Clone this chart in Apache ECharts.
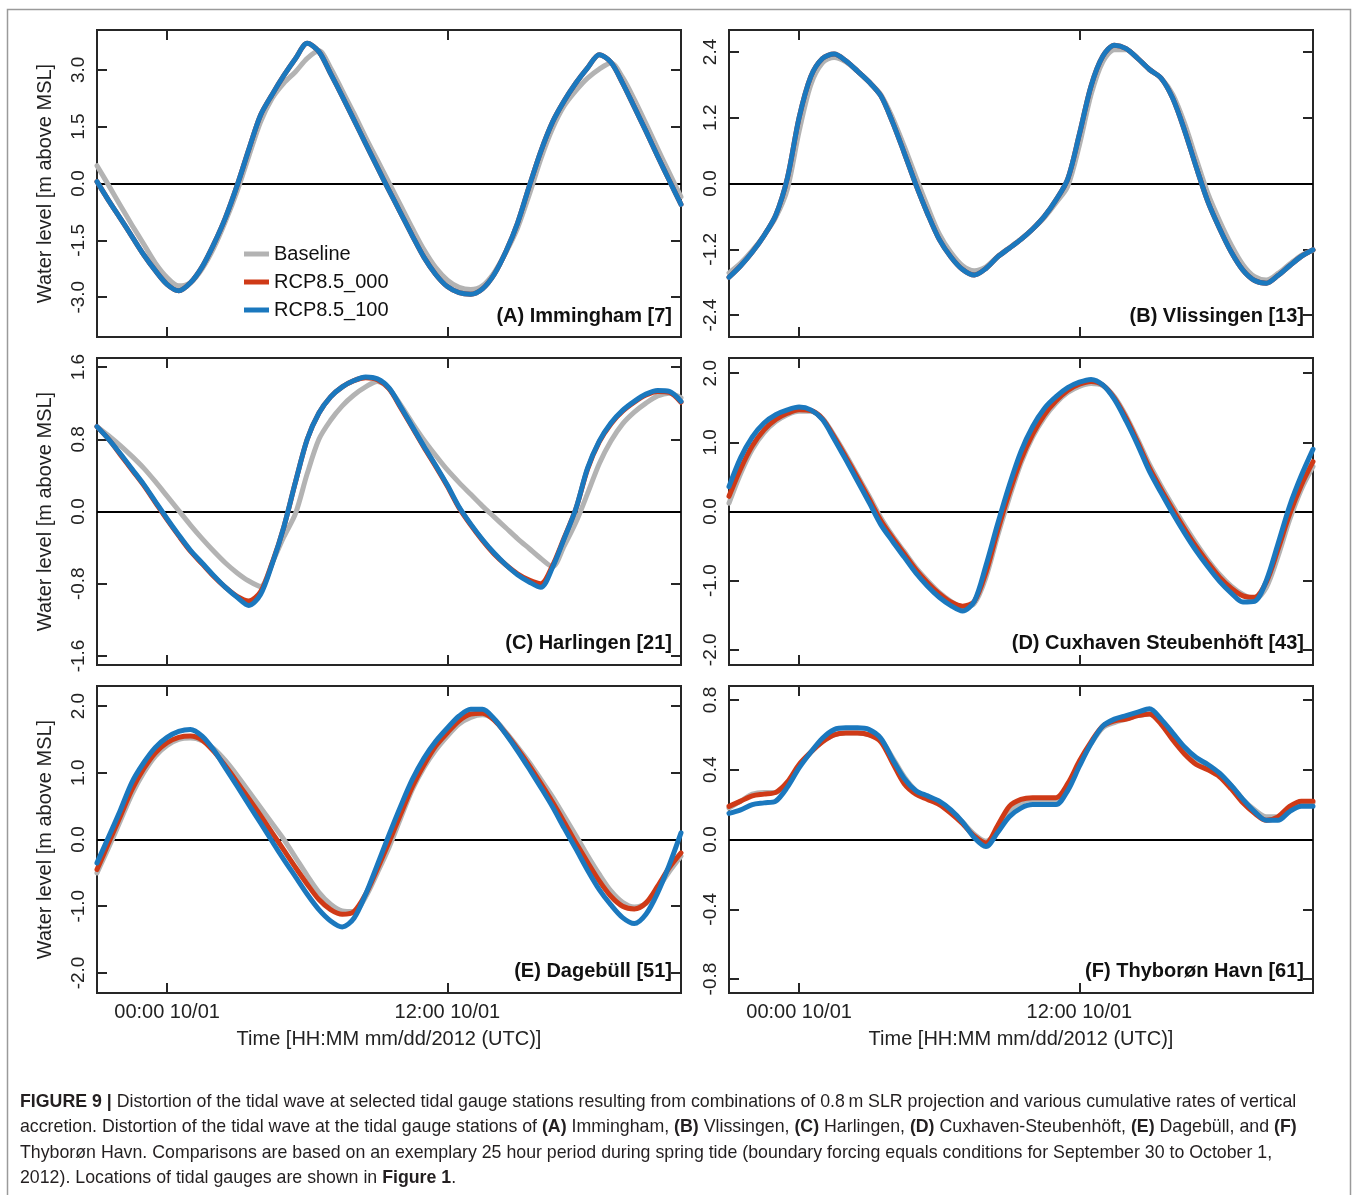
<!DOCTYPE html>
<html>
<head>
<meta charset="utf-8">
<script src="https://cdn.jsdelivr.net/npm/echarts@6/dist/echarts.min.js"></script>
<style>
html,body{margin:0;padding:0;background:#fff;}
#wrap{position:relative;width:1358px;height:1195px;overflow:hidden;background:#fff;}
#chart{position:absolute;left:0;top:0;width:1358px;height:1195px;}
#cap{position:absolute;left:20px;top:1089px;font-family:"Liberation Sans",Arial,Helvetica,sans-serif;font-size:17.75px;line-height:25.4px;color:#231f20;white-space:nowrap;}
#cap b{font-weight:bold;}
</style>
</head>
<body>
<div id="wrap">
<div id="chart"></div>
<div id="cap"><b>FIGURE 9 |</b> Distortion of the tidal wave at selected tidal gauge stations resulting from combinations of 0.8&#8201;m SLR projection and various cumulative rates of vertical<br>accretion. Distortion of the tidal wave at the tidal gauge stations of <b>(A)</b> Immingham, <b>(B)</b> Vlissingen, <b>(C)</b> Harlingen, <b>(D)</b> Cuxhaven-Steubenhöft, <b>(E)</b> Dagebüll, and <b>(F)</b><br>Thyborøn Havn. Comparisons are based on an exemplary 25 hour period during spring tide (boundary forcing equals conditions for September 30 to October 1,<br>2012). Locations of tidal gauges are shown in <b>Figure 1</b>.</div>
</div>
<script>
// ---- time grid (hours relative to 00:00 10/01/2012) ----
const HOURS = [-3,-2.5,-2,-1.5,-1,-0.5,0,0.5,1,1.5,2,2.5,3,3.5,4,4.5,5,5.5,6,6.5,7,7.5,8,8.5,9,9.5,10,10.5,11,11.5,12,12.5,13,13.5,14,14.5,15,15.5,16,16.5,17,17.5,18,18.5,19,19.5,20,20.5,21,21.5,22];
const X_MIN = -3, X_MAX = 22;
const X_TICKS = [0, 12];
const X_TICK_LABELS = ['00:00 10/01', '12:00 10/01'];
const SERIES_NAMES = ['Baseline', 'RCP8.5_000', 'RCP8.5_100'];
const PANEL_TITLES = ['(A) Immingham [7]', '(B) Vlissingen [13]', '(C) Harlingen [21]', '(D) Cuxhaven Steubenhöft [43]', '(E) Dagebüll [51]', '(F) Thyborøn Havn [61]'];

// ---- y axis ticks / ranges ----
const A_TICKS = [-3, -1.5, 0, 1.5, 3];   const A_RANGE = [-4.05, 4.05];
const B_TICKS = [-2.4, -1.2, 0, 1.2, 2.4]; const B_RANGE = [-2.8, 2.8];
const C_TICKS = [-1.6, -0.8, 0, 0.8, 1.6]; const C_RANGE = [-1.7, 1.7];
const D_TICKS = [-2, -1, 0, 1, 2];       const D_RANGE = [-2.22, 2.22];
const E_TICKS = [-2, -1, 0, 1, 2];       const E_RANGE = [-2.3, 2.3];
const F_TICKS = [-0.8, -0.4, 0, 0.4, 0.8]; const F_RANGE = [-0.88, 0.88];

// ---- water levels [m above MSL] ----
const A_BASE = [0.47,-0.05,-0.58,-1.10,-1.60,-2.10,-2.48,-2.70,-2.62,-2.25,-1.70,-1.00,-0.20,0.72,1.62,2.25,2.65,2.95,3.30,3.50,3.05,2.45,1.85,1.22,0.62,0.02,-0.58,-1.18,-1.75,-2.22,-2.55,-2.74,-2.80,-2.70,-2.35,-1.82,-1.18,-0.30,0.65,1.45,2.05,2.45,2.78,3.02,3.18,2.80,2.22,1.58,0.92,0.28,-0.35];
const A_000  = [0.05,-0.45,-0.92,-1.40,-1.88,-2.30,-2.66,-2.83,-2.62,-2.20,-1.60,-0.90,-0.05,0.90,1.80,2.35,2.85,3.30,3.70,3.48,2.90,2.30,1.68,1.05,0.43,-0.18,-0.78,-1.38,-1.95,-2.40,-2.72,-2.88,-2.92,-2.78,-2.40,-1.80,-1.05,-0.08,0.85,1.62,2.18,2.65,3.05,3.40,3.20,2.65,2.02,1.38,0.72,0.08,-0.55];
const A_100  = [0.05,-0.45,-0.92,-1.40,-1.88,-2.30,-2.66,-2.83,-2.62,-2.20,-1.60,-0.90,-0.05,0.90,1.80,2.35,2.85,3.30,3.70,3.48,2.90,2.30,1.68,1.05,0.43,-0.18,-0.78,-1.38,-1.95,-2.40,-2.72,-2.88,-2.92,-2.78,-2.40,-1.80,-1.05,-0.08,0.85,1.62,2.18,2.65,3.05,3.40,3.20,2.65,2.02,1.38,0.72,0.08,-0.55];

const B_BASE = [-1.63,-1.45,-1.22,-0.95,-0.62,-0.10,0.95,1.80,2.20,2.30,2.22,2.05,1.85,1.62,1.20,0.68,0.12,-0.42,-0.92,-1.26,-1.50,-1.59,-1.52,-1.33,-1.17,-1.01,-0.83,-0.62,-0.35,-0.05,0.70,1.62,2.22,2.44,2.44,2.28,2.08,1.92,1.62,1.10,0.45,-0.18,-0.68,-1.12,-1.48,-1.70,-1.76,-1.64,-1.47,-1.31,-1.22];
const B_000  = [-1.71,-1.50,-1.25,-0.95,-0.58,0.10,1.20,1.95,2.28,2.36,2.24,2.05,1.85,1.60,1.12,0.56,-0.02,-0.55,-1.02,-1.34,-1.57,-1.67,-1.55,-1.34,-1.18,-1.02,-0.83,-0.60,-0.30,0.08,0.90,1.78,2.32,2.52,2.46,2.28,2.08,1.92,1.55,0.97,0.30,-0.33,-0.82,-1.25,-1.58,-1.77,-1.82,-1.68,-1.50,-1.33,-1.21];
const B_100  = [-1.71,-1.50,-1.25,-0.95,-0.58,0.10,1.20,1.95,2.28,2.36,2.24,2.05,1.85,1.60,1.12,0.56,-0.02,-0.55,-1.02,-1.34,-1.57,-1.67,-1.55,-1.34,-1.18,-1.02,-0.83,-0.60,-0.30,0.08,0.90,1.78,2.32,2.52,2.46,2.28,2.08,1.92,1.55,0.97,0.30,-0.33,-0.82,-1.25,-1.58,-1.77,-1.82,-1.68,-1.50,-1.33,-1.21];

const C_BASE = [0.94,0.84,0.73,0.61,0.48,0.33,0.17,0.01,-0.15,-0.30,-0.44,-0.57,-0.68,-0.77,-0.83,-0.57,-0.28,-0.02,0.42,0.80,1.01,1.17,1.29,1.38,1.44,1.36,1.18,0.98,0.79,0.62,0.46,0.32,0.19,0.06,-0.06,-0.18,-0.30,-0.41,-0.52,-0.61,-0.38,-0.12,0.20,0.53,0.78,0.97,1.10,1.20,1.28,1.31,1.26];
const C_000  = [0.94,0.80,0.63,0.46,0.29,0.10,-0.09,-0.27,-0.44,-0.58,-0.72,-0.84,-0.94,-0.99,-0.89,-0.57,-0.17,0.33,0.80,1.09,1.27,1.38,1.45,1.48,1.46,1.36,1.15,0.93,0.71,0.50,0.28,0.04,-0.15,-0.32,-0.47,-0.59,-0.69,-0.76,-0.80,-0.60,-0.29,0.03,0.47,0.77,0.97,1.11,1.21,1.29,1.33,1.32,1.21];
const C_100  = [0.94,0.80,0.64,0.47,0.30,0.11,-0.08,-0.26,-0.43,-0.57,-0.71,-0.84,-0.95,-1.04,-0.92,-0.58,-0.17,0.33,0.80,1.09,1.27,1.38,1.45,1.49,1.47,1.37,1.16,0.94,0.72,0.51,0.29,0.05,-0.14,-0.31,-0.46,-0.59,-0.70,-0.78,-0.84,-0.62,-0.30,0.03,0.48,0.78,0.98,1.12,1.22,1.30,1.34,1.33,1.22];

const D_BASE = [0.12,0.55,0.90,1.14,1.30,1.40,1.45,1.45,1.35,1.10,0.82,0.52,0.22,-0.09,-0.35,-0.58,-0.81,-1.00,-1.17,-1.30,-1.38,-1.33,-0.95,-0.35,0.20,0.70,1.08,1.36,1.57,1.72,1.81,1.85,1.82,1.66,1.38,1.04,0.68,0.37,0.08,-0.20,-0.46,-0.70,-0.91,-1.08,-1.20,-1.27,-1.10,-0.65,-0.12,0.32,0.65];
const D_000  = [0.22,0.62,0.95,1.18,1.33,1.42,1.47,1.46,1.34,1.08,0.79,0.49,0.18,-0.13,-0.38,-0.61,-0.84,-1.03,-1.19,-1.31,-1.37,-1.30,-0.88,-0.28,0.27,0.75,1.12,1.40,1.60,1.75,1.84,1.88,1.83,1.64,1.35,1.00,0.63,0.32,0.03,-0.25,-0.51,-0.74,-0.95,-1.11,-1.22,-1.24,-1.02,-0.55,-0.04,0.38,0.72];
const D_100  = [0.36,0.78,1.08,1.28,1.40,1.47,1.51,1.47,1.33,1.05,0.75,0.44,0.13,-0.19,-0.43,-0.66,-0.89,-1.08,-1.24,-1.36,-1.44,-1.30,-0.78,-0.18,0.38,0.87,1.23,1.49,1.66,1.79,1.87,1.91,1.83,1.62,1.31,0.96,0.58,0.27,-0.03,-0.31,-0.57,-0.80,-1.01,-1.18,-1.31,-1.30,-1.00,-0.47,0.08,0.52,0.90];

const E_BASE = [-0.50,-0.12,0.28,0.68,1.00,1.25,1.41,1.50,1.52,1.48,1.36,1.18,0.96,0.72,0.48,0.24,0.00,-0.27,-0.54,-0.79,-0.97,-1.07,-1.08,-0.86,-0.50,-0.12,0.32,0.75,1.08,1.34,1.55,1.73,1.83,1.87,1.80,1.61,1.39,1.16,0.90,0.64,0.35,0.06,-0.24,-0.52,-0.77,-0.94,-1.01,-0.96,-0.74,-0.48,-0.25];
const E_000  = [-0.45,-0.05,0.35,0.75,1.06,1.30,1.45,1.53,1.55,1.49,1.32,1.10,0.86,0.61,0.36,0.10,-0.16,-0.42,-0.67,-0.90,-1.05,-1.12,-1.08,-0.82,-0.44,-0.04,0.38,0.79,1.12,1.40,1.60,1.78,1.88,1.89,1.79,1.59,1.36,1.11,0.84,0.56,0.26,-0.05,-0.34,-0.62,-0.85,-1.00,-1.04,-0.95,-0.70,-0.42,-0.20];
const E_100  = [-0.35,0.04,0.44,0.86,1.15,1.38,1.53,1.62,1.65,1.55,1.34,1.07,0.80,0.52,0.25,-0.03,-0.30,-0.56,-0.82,-1.05,-1.22,-1.31,-1.18,-0.82,-0.38,0.07,0.50,0.90,1.22,1.47,1.67,1.85,1.95,1.95,1.81,1.58,1.33,1.06,0.78,0.49,0.17,-0.14,-0.46,-0.75,-0.98,-1.17,-1.26,-1.12,-0.80,-0.38,0.10];

const F_BASE = [0.18,0.22,0.26,0.27,0.27,0.32,0.42,0.50,0.56,0.60,0.61,0.61,0.60,0.57,0.47,0.36,0.28,0.24,0.21,0.16,0.10,0.03,-0.01,0.05,0.15,0.21,0.23,0.23,0.23,0.30,0.44,0.55,0.64,0.67,0.69,0.71,0.72,0.67,0.59,0.51,0.45,0.41,0.37,0.31,0.23,0.17,0.13,0.13,0.18,0.21,0.21];
const F_000  = [0.19,0.22,0.25,0.26,0.27,0.33,0.43,0.50,0.56,0.60,0.61,0.61,0.60,0.56,0.44,0.32,0.26,0.23,0.20,0.15,0.09,0.02,-0.02,0.08,0.19,0.23,0.24,0.24,0.24,0.32,0.45,0.56,0.65,0.68,0.69,0.71,0.72,0.66,0.57,0.49,0.43,0.40,0.36,0.29,0.21,0.15,0.11,0.13,0.19,0.22,0.22];
const F_100  = [0.15,0.17,0.20,0.21,0.22,0.30,0.41,0.50,0.58,0.63,0.64,0.64,0.63,0.58,0.46,0.35,0.28,0.25,0.22,0.17,0.10,0.01,-0.04,0.04,0.13,0.18,0.20,0.20,0.20,0.28,0.42,0.55,0.65,0.69,0.71,0.73,0.75,0.69,0.61,0.53,0.47,0.43,0.38,0.31,0.23,0.16,0.11,0.11,0.16,0.19,0.19];

// ---- assemble ----
const PANEL_DATA = [
  {ticks: A_TICKS, range: A_RANGE, series: [A_BASE, A_000, A_100]},
  {ticks: B_TICKS, range: B_RANGE, series: [B_BASE, B_000, B_100]},
  {ticks: C_TICKS, range: C_RANGE, series: [C_BASE, C_000, C_100]},
  {ticks: D_TICKS, range: D_RANGE, series: [D_BASE, D_000, D_100]},
  {ticks: E_TICKS, range: E_RANGE, series: [E_BASE, E_000, E_100]},
  {ticks: F_TICKS, range: F_RANGE, series: [F_BASE, F_000, F_100]}
];

const FONT = '"Liberation Sans", Arial, Helvetica, sans-serif';
const COLORS = ['#b3b3b3', '#cf3a17', '#1b78be'];
const FRAME = '#262626';
const GRID_W = 584, GRID_H = 307;
const GRID_POS = [[97, 30], [729, 30], [97, 358], [729, 358], [97, 686], [729, 686]];
const TITLE_POS = [[686, 306], [54, 306], [686, 633], [54, 633], [686, 961], [54, 961]];

const grids = [], xAxes = [], yAxes = [], series = [], titles = [];

PANEL_DATA.forEach((p, i) => {
  grids.push({left: GRID_POS[i][0], top: GRID_POS[i][1], width: GRID_W, height: GRID_H,
    show: true, borderColor: FRAME, borderWidth: 2, backgroundColor: 'transparent'});
  const axLine = {show: true, onZero: false, lineStyle: {color: FRAME, width: 2}};
  const isBottom = i >= 4, isLeft = i % 2 === 0;
  ['bottom', 'top'].forEach(pos => {
    const lab = pos === 'bottom' && isBottom;
    xAxes.push({
      gridIndex: i, type: 'value', min: X_MIN, max: X_MAX, position: pos,
      axisLine: axLine,
      axisTick: {show: true, inside: true, length: 10, customValues: X_TICKS, lineStyle: {color: FRAME, width: 2}},
      axisLabel: {show: lab, customValues: X_TICKS, margin: 9, fontSize: 20, color: '#222', fontFamily: FONT,
        formatter: v => X_TICK_LABELS[X_TICKS.indexOf(v)] || ''},
      splitLine: {show: false},
      name: lab ? 'Time [HH:MM mm/dd/2012 (UTC)]' : '',
      nameLocation: 'middle', nameGap: 36,
      nameTextStyle: {fontSize: 20, color: '#222', fontFamily: FONT}
    });
  });
  ['left', 'right'].forEach(pos => {
    const lab = pos === 'left';
    yAxes.push({
      gridIndex: i, type: 'value', min: p.range[0], max: p.range[1], position: pos,
      axisLine: axLine,
      axisTick: {show: true, inside: true, length: 10, customValues: p.ticks, lineStyle: {color: FRAME, width: 2}},
      axisLabel: {show: lab, customValues: p.ticks, rotate: 90, margin: 9, fontSize: 19, color: '#222', fontFamily: FONT,
        formatter: v => (Math.abs(v) < 1e-9 ? 0 : v).toFixed(1)},
      splitLine: {show: false},
      name: (lab && isLeft) ? 'Water level [m above MSL]' : '',
      nameLocation: 'middle', nameGap: 42,
      nameTextStyle: {fontSize: 20, color: '#222', fontFamily: FONT}
    });
  });
  // zero reference line
  series.push({
    name: 'zero' + i, type: 'line', xAxisIndex: 2 * i, yAxisIndex: 2 * i, data: [],
    silent: true, animation: false,
    markLine: {silent: true, z: 1, symbol: ['none', 'none'], animation: false, label: {show: false},
      lineStyle: {color: '#000', width: 2, type: 'solid'}, emphasis: {disabled: true}, data: [{yAxis: 0}]}
  });
  p.series.forEach((vals, s) => {
    series.push({
      name: SERIES_NAMES[s], type: 'line', xAxisIndex: 2 * i, yAxisIndex: 2 * i,
      data: HOURS.map((h, k) => [h, vals[k]]),
      showSymbol: false, symbol: 'none', smooth: 0.3, z: 2 + s,
      lineStyle: {color: COLORS[s], width: 5, cap: 'round', join: 'round'},
      itemStyle: {color: COLORS[s]},
      emphasis: {disabled: true}, silent: true, animation: false
    });
  });
  titles.push({
    text: PANEL_TITLES[i], right: TITLE_POS[i][0], top: TITLE_POS[i][1], padding: 0,
    textStyle: {fontSize: 20, fontWeight: 'bold', color: '#111', fontFamily: FONT}
  });
});

const chart = echarts.init(document.getElementById('chart'), null, {renderer: 'canvas'});
chart.setOption({
  animation: false,
  backgroundColor: '#fff',
  textStyle: {fontFamily: FONT},
  title: titles,
  legend: {
    data: SERIES_NAMES, orient: 'vertical', left: 244, top: 244, padding: 0,
    icon: 'rect', itemWidth: 25, itemHeight: 5, itemGap: 8, selectedMode: false,
    textStyle: {fontSize: 20, color: '#111', fontFamily: FONT}
  },
  grid: grids, xAxis: xAxes, yAxis: yAxes, series: series,
  graphic: [{type: 'rect', silent: true, z: -10,
    shape: {x: 7.5, y: 9.5, width: 1343, height: 1300},
    style: {fill: 'none', stroke: '#9a9a9a', lineWidth: 1.5}}]
});
</script>
</body>
</html>
